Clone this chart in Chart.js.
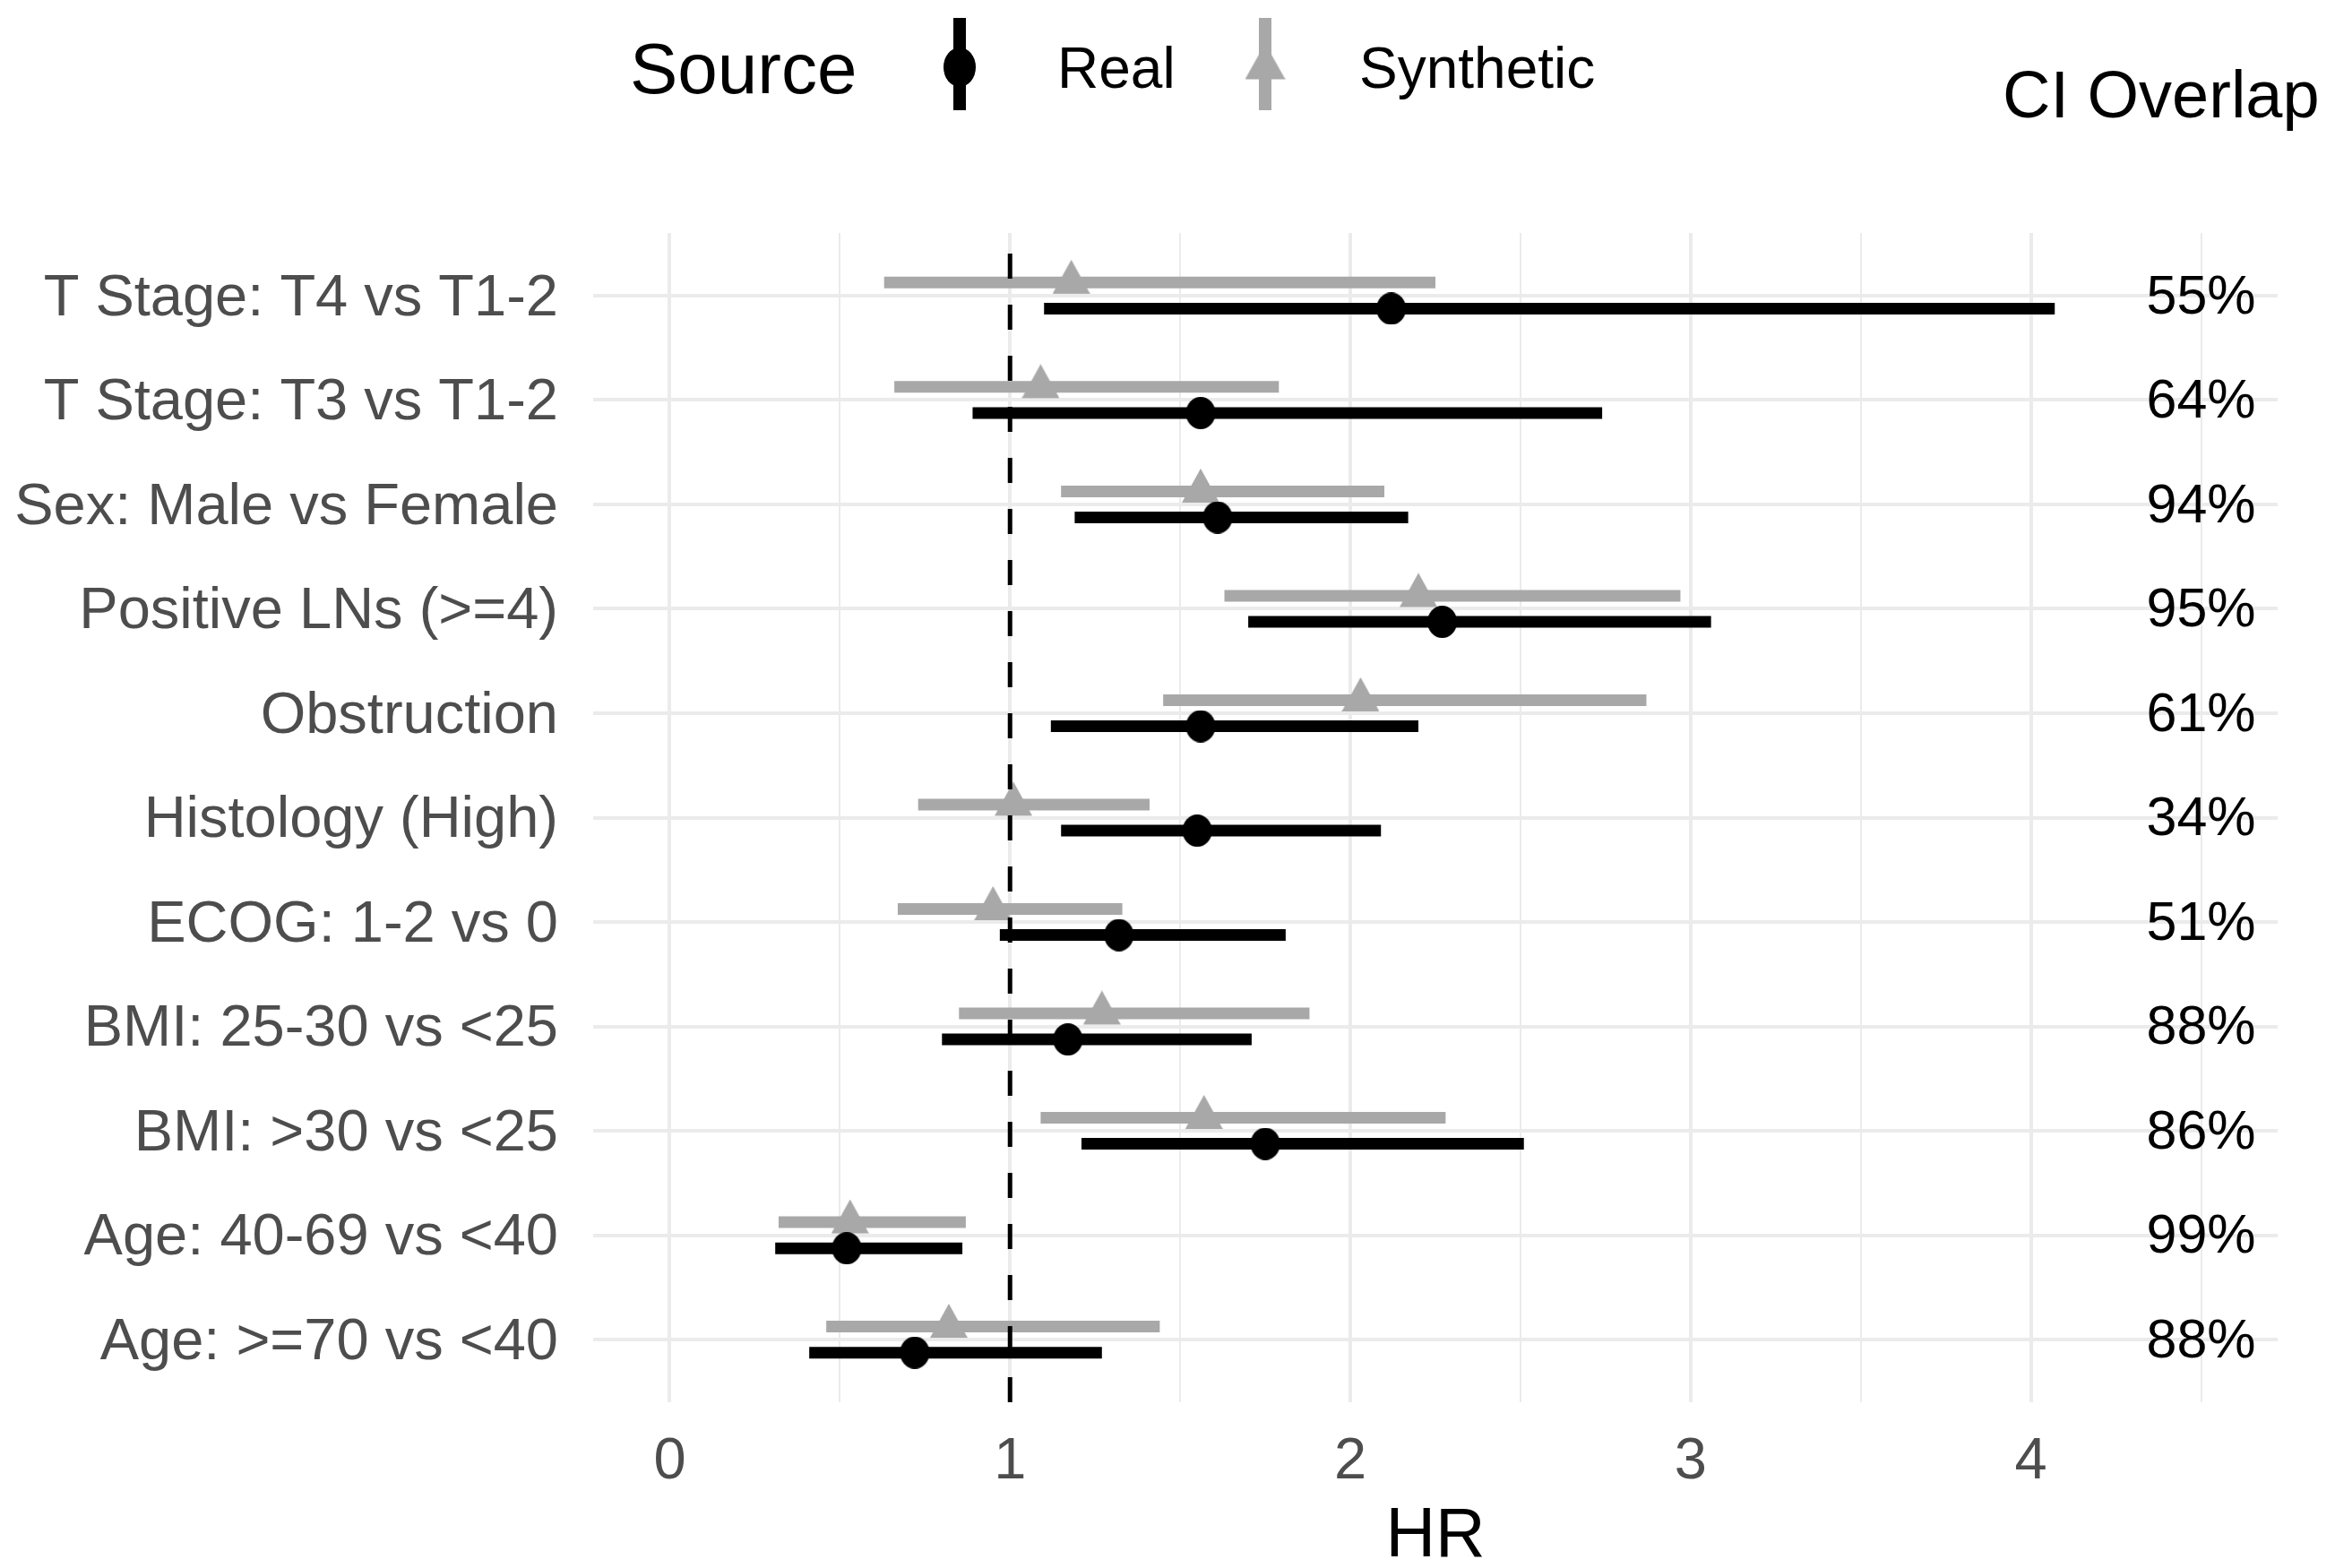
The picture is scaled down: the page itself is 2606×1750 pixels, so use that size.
<!DOCTYPE html>
<html>
<head>
<meta charset="utf-8">
<script src="https://cdn.jsdelivr.net/npm/chart.js@4.4.1/dist/chart.umd.min.js"></script>
<style>
  html, body { margin: 0; padding: 0; background: #ffffff; }
  #wrap { width: 2606px; height: 1750px; position: relative; }
</style>
</head>
<body>
<div id="wrap"><canvas id="forestChart"></canvas></div>
<script>
// rows, top to bottom
const categories = [
  'T Stage: T4 vs T1-2', 'T Stage: T3 vs T1-2', 'Sex: Male vs Female', 'Positive LNs (>=4)',
  'Obstruction', 'Histology (High)', 'ECOG: 1-2 vs 0', 'BMI: 25-30 vs <25',
  'BMI: >30 vs <25', 'Age: 40-69 vs <40', 'Age: >=70 vs <40'
];

const realHR    = [2.12, 1.56, 1.61, 2.27, 1.56, 1.55, 1.32, 1.17, 1.75, 0.52, 0.72];
const realLower = [1.10, 0.89, 1.19, 1.70, 1.12, 1.15, 0.97, 0.80, 1.21, 0.31, 0.41];
const realUpper = [4.07, 2.74, 2.17, 3.06, 2.20, 2.09, 1.81, 1.71, 2.51, 0.86, 1.27];

const synHR    = [1.18, 1.09, 1.56, 2.20, 2.03, 1.01, 0.95, 1.27, 1.57, 0.53, 0.82];
const synLower = [0.63, 0.66, 1.15, 1.63, 1.45, 0.73, 0.67, 0.85, 1.09, 0.32, 0.46];
const synUpper = [2.25, 1.79, 2.10, 2.97, 2.87, 1.41, 1.33, 1.88, 2.28, 0.87, 1.44];

const overlapPct = [55, 64, 94, 95, 61, 34, 51, 88, 86, 99, 88];

const xTickValues = [0, 0.5, 1, 1.5, 2, 2.5, 3, 3.5, 4, 4.5];
const refHR = 1;
const overlapX = 4.5;

const REAL_COL = '#000000';
const SYN_COL = '#a8a8a8';
const FONT = "'Liberation Sans', Arial, sans-serif";
const dodge = 0.125;

function ellipseImg(w, h, color) {
  const c = document.createElement('canvas');
  c.width = w; c.height = h;
  const g = c.getContext('2d');
  g.fillStyle = color;
  g.beginPath();
  g.ellipse(w / 2, h / 2, w / 2, h / 2, 0, 0, Math.PI * 2);
  g.fill();
  return c;
}

// triangle with its centroid at the canvas centre
function triangleImg(w, h, color) {
  const c = document.createElement('canvas');
  c.width = w; c.height = Math.round(h * 4 / 3);
  const g = c.getContext('2d');
  g.fillStyle = color;
  g.beginPath();
  g.moveTo(w / 2, 0);
  g.lineTo(w, h);
  g.lineTo(0, h);
  g.closePath();
  g.fill();
  return c;
}

const realDot = ellipseImg(33, 36, REAL_COL);
const synTri = triangleImg(42, 38, SYN_COL);

const ciData = (lo, hi, off) => {
  const out = [];
  lo.forEach((l, i) => {
    out.push({x: l, y: i + off}, {x: hi[i], y: i + off}, {x: null, y: null});
  });
  return out;
};
const pointData = (vals, off) => vals.map((v, i) => ({x: v, y: i + off}));

const yMin = -0.6, yMax = categories.length - 1 + 0.6;

const legendAndText = {
  id: 'legendAndText',
  afterDatasetsDraw(chart) {
    const {ctx, scales: {x, y}} = chart;
    ctx.save();
    // overlap percentages
    ctx.fillStyle = '#000000';
    ctx.font = '61px ' + FONT;
    ctx.textAlign = 'center';
    ctx.textBaseline = 'middle';
    overlapPct.forEach((p, i) => {
      ctx.fillText(p + '%', x.getPixelForValue(overlapX), y.getPixelForValue(i) + 3);
    });

    // legend
    ctx.textAlign = 'left';
    ctx.textBaseline = 'alphabetic';
    ctx.font = '80px ' + FONT;
    ctx.fillText('Source', 703, 104);

    ctx.lineCap = 'butt';
    ctx.lineWidth = 14;
    ctx.strokeStyle = REAL_COL;
    ctx.beginPath(); ctx.moveTo(1071, 20); ctx.lineTo(1071, 123); ctx.stroke();
    const keyDot = ellipseImg(36, 44, REAL_COL);
    ctx.drawImage(keyDot, 1071 - 18, 75 - 22);

    ctx.strokeStyle = SYN_COL;
    ctx.beginPath(); ctx.moveTo(1412, 20); ctx.lineTo(1412, 123); ctx.stroke();
    const keyTri = triangleImg(45, 40, SYN_COL);
    ctx.drawImage(keyTri, 1412 - keyTri.width / 2, 75 - keyTri.height / 2);

    ctx.fillStyle = '#000000';
    ctx.font = '64px ' + FONT;
    ctx.fillText('Real', 1180, 98);
    ctx.fillText('Synthetic', 1517, 98);

    ctx.font = '74px ' + FONT;
    ctx.fillText('CI Overlap', 2235, 131);
    ctx.restore();
  }
};

Chart.defaults.font.family = FONT;

new Chart(document.getElementById('forestChart'), {
  type: 'scatter',
  data: {
    datasets: [
      {
        label: 'ref',
        showLine: true,
        data: [{x: refHR, y: yMax}, {x: refHR, y: yMin}],
        borderColor: '#000000',
        borderWidth: 5,
        borderDash: [28, 29],
        pointRadius: 0,
        order: 0
      },
      {
        label: 'Real',
        data: pointData(realHR, dodge),
        pointStyle: realDot,
        pointRadius: 18,
        order: 1
      },
      {
        label: 'Real CI',
        showLine: true,
        spanGaps: false,
        data: ciData(realLower, realUpper, dodge),
        borderColor: REAL_COL,
        borderWidth: 13,
        borderCapStyle: 'butt',
        pointRadius: 0,
        order: 2
      },
      {
        label: 'Synthetic',
        data: pointData(synHR, -dodge),
        pointStyle: synTri,
        pointRadius: 20,
        order: 3
      },
      {
        label: 'Synthetic CI',
        showLine: true,
        spanGaps: false,
        data: ciData(synLower, synUpper, -dodge),
        borderColor: SYN_COL,
        borderWidth: 13,
        borderCapStyle: 'butt',
        pointRadius: 0,
        order: 4
      }
    ]
  },
  options: {
    responsive: true,
    maintainAspectRatio: false,
    devicePixelRatio: 1,
    animation: false,
    layout: { padding: { top: 260, right: 64, bottom: 0, left: 0 } },
    plugins: {
      legend: { display: false },
      tooltip: { enabled: false }
    },
    scales: {
      x: {
        type: 'linear',
        min: -0.225,
        max: 4.725,
        afterBuildTicks: (s) => { s.ticks = xTickValues.map(v => ({value: v})); },
        afterFit: (s) => { s.height = 185; },
        border: { display: false },
        grid: {
          color: '#ebebeb',
          lineWidth: (c) => Number.isInteger(c.tick && c.tick.value) ? 4 : 2,
          drawTicks: false
        },
        ticks: {
          autoSkip: false,
          maxRotation: 0,
          padding: 28,
          color: '#4d4d4d',
          font: { size: 65 },
          callback: (v) => Number.isInteger(v) ? String(v) : ''
        },
        title: {
          display: true,
          text: 'HR',
          color: '#000000',
          font: { size: 77, lineHeight: 1 },
          padding: { top: 0, bottom: -4 }
        }
      },
      y: {
        type: 'linear',
        reverse: true,
        min: yMin,
        max: yMax,
        afterBuildTicks: (s) => { s.ticks = categories.map((c, i) => ({value: i})); },
        afterFit: (s) => { s.width = 662; },
        border: { display: false },
        grid: { color: '#ebebeb', lineWidth: 4, drawTicks: false },
        ticks: {
          autoSkip: false,
          padding: 39,
          labelOffset: 4,
          color: '#4d4d4d',
          font: { size: 65 },
          callback: (v) => categories[v]
        }
      }
    }
  },
  plugins: [legendAndText]
});
</script>
</body>
</html>
